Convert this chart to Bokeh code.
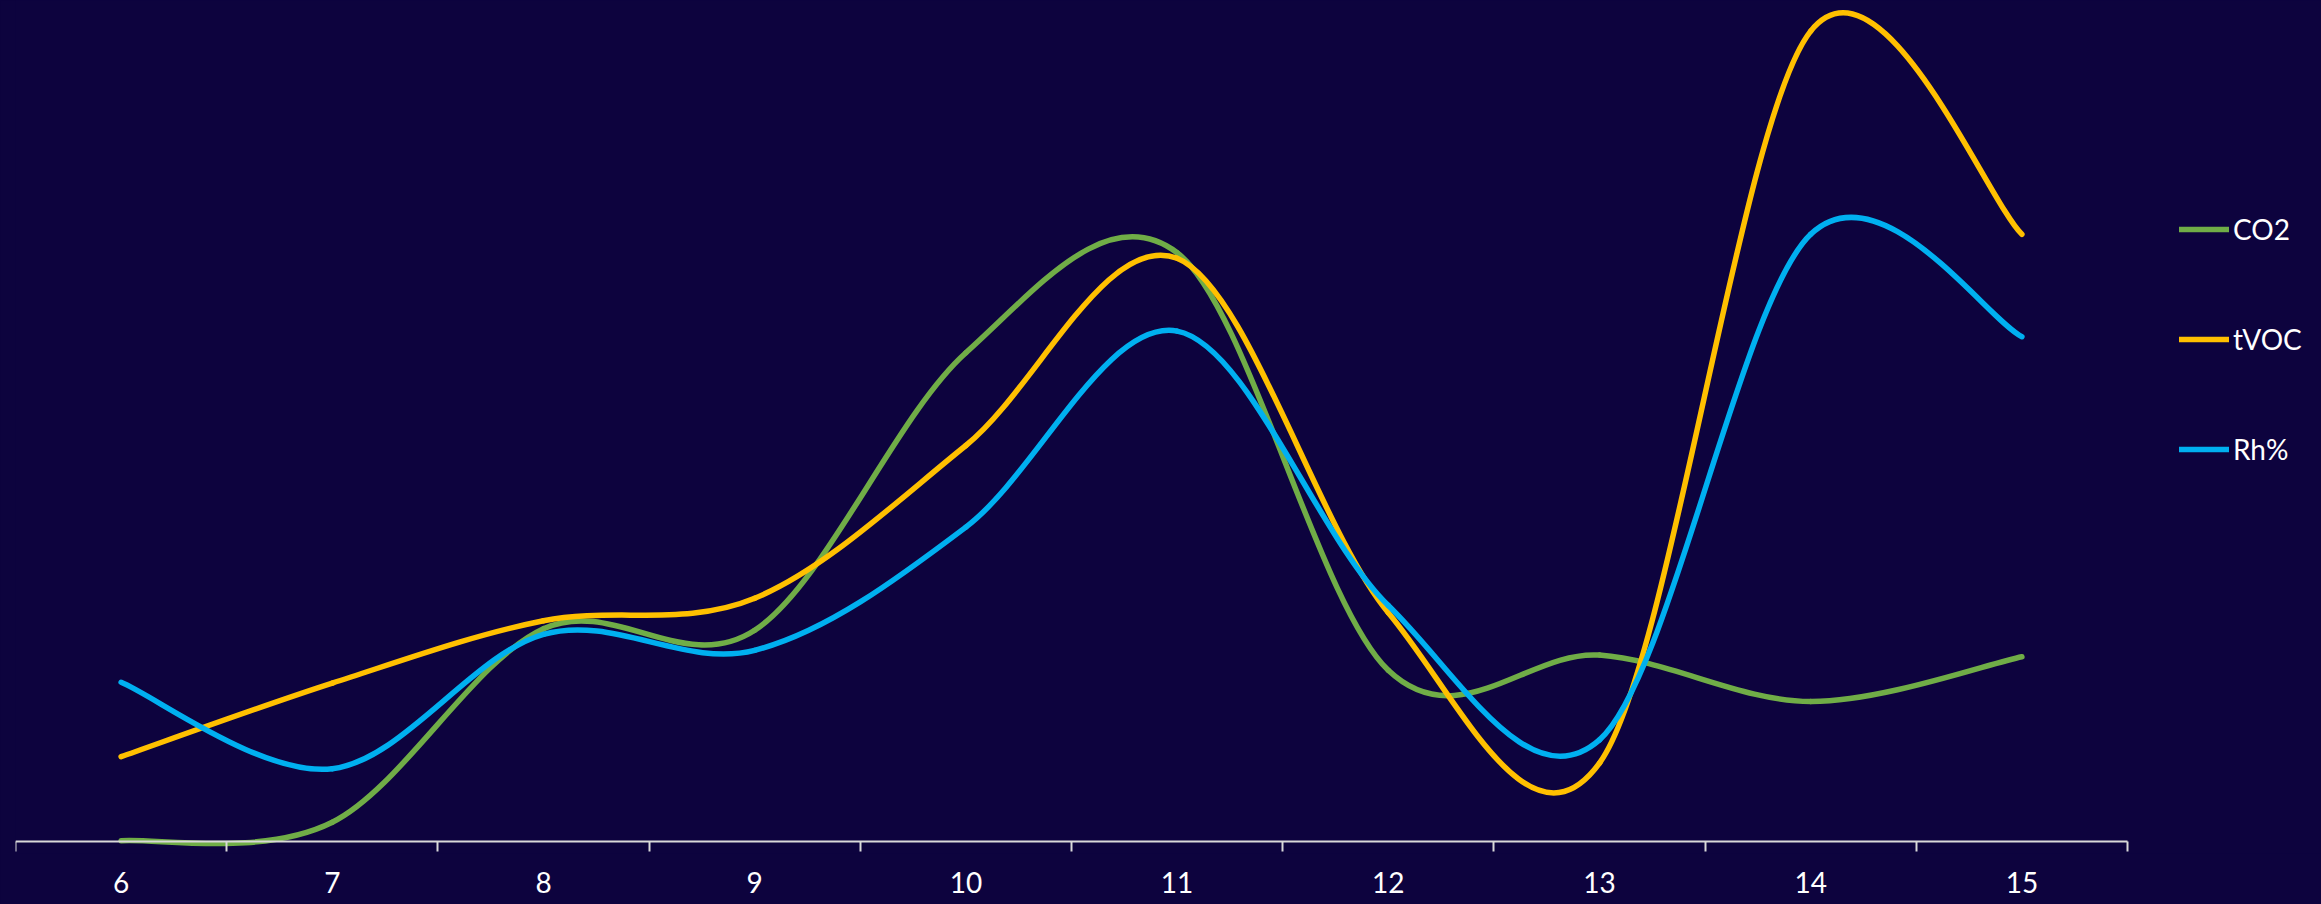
import numpy as np
from bokeh.plotting import figure
from bokeh.models import Range1d, FixedTicker, LinearAxis, Legend, LegendItem
from bokeh.embed import file_html
from bokeh.resources import INLINE

# ---- data ----
hours = [6, 7, 8, 9, 10, 11, 12, 13, 14, 15]
co2 = [0.1, 2.4, 26.6, 26.4, 61.1, 73.6, 21.4, 23.3, 17.5, 23.1]
tvoc = [10.6, 19.8, 27.6, 30.4, 49.5, 72.9, 28.6, 9.8, 101.3, 75.9]
rh = [19.9, 9.1, 25.9, 23.9, 39.3, 63.8, 29.5, 12.7, 75.9, 63.1]
series_names = ["CO2", "tVOC", "Rh%"]
series_colors = ["#70AD47", "#FFC000", "#00B0F0"]

BG = "#0D033E"
AXIS_COLOR = "#D9D9D9"
W, H = 2321, 904
LEFT = 15
BOTTOM = 51
X_PX = 211.2   # px per category
Y_PX = 8.0     # px per value unit

x_start = hours[0] - 0.5
x_end = x_start + (W - LEFT) / X_PX
frame_h = H - BOTTOM
y_start = -12 / Y_PX
y_end = y_start + frame_h / Y_PX

p = figure(width=W, height=H, output_backend="svg", toolbar_location=None,
           x_range=Range1d(x_start, x_end), y_range=Range1d(y_start, y_end),
           x_axis_location=None, y_axis_location=None,
           min_border_left=LEFT, min_border_right=0, min_border_top=0,
           min_border_bottom=BOTTOM)
p.background_fill_color = BG
p.border_fill_color = BG
p.outline_line_color = None
p.xgrid.visible = False
p.ygrid.visible = False


def smooth_segments(xs, ys):
    x = np.asarray(xs, float)
    y = np.asarray(ys, float)
    xp = np.r_[x[0], x, x[-1]]
    yp = np.r_[y[0], y, y[-1]]
    return dict(
        x0=x[:-1], y0=y[:-1], x1=x[1:], y1=y[1:],
        cx0=x[:-1] + (xp[2:-1] - xp[:-3]) / 6.0,
        cy0=y[:-1] + (yp[2:-1] - yp[:-3]) / 6.0,
        cx1=x[1:] - (xp[3:] - xp[1:-2]) / 6.0,
        cy1=y[1:] - (yp[3:] - yp[1:-2]) / 6.0,
    )


items = []
for name, vals, col in zip(series_names, [co2, tvoc, rh], series_colors):
    seg = smooth_segments(hours, vals)
    r = p.bezier(line_color=col, line_width=5.5, line_cap="round", **seg)
    items.append(LegendItem(label=name, renderers=[r]))

boundaries = [h - 0.5 for h in hours] + [hours[-1] + 0.5]

# axis line + category separator ticks, at value 0
ax_line = LinearAxis(ticker=FixedTicker(ticks=hours, minor_ticks=boundaries),
                     fixed_location=0, bounds=(boundaries[0], boundaries[-1]))
ax_line.axis_line_color = AXIS_COLOR
ax_line.axis_line_width = 2
ax_line.major_tick_in = 0
ax_line.major_tick_out = 0
ax_line.minor_tick_in = 0
ax_line.minor_tick_out = 10
ax_line.minor_tick_line_color = AXIS_COLOR
ax_line.minor_tick_line_width = 2
ax_line.major_label_text_alpha = 0
p.add_layout(ax_line, "below")

# category labels
ax_lab = LinearAxis(ticker=FixedTicker(ticks=hours, minor_ticks=[]))
ax_lab.axis_line_color = None
ax_lab.major_tick_line_color = None
ax_lab.minor_tick_line_color = None
ax_lab.major_tick_in = 0
ax_lab.major_tick_out = 0
ax_lab.minor_tick_in = 0
ax_lab.minor_tick_out = 0
ax_lab.major_label_standoff = 18
ax_lab.major_label_text_color = "white"
ax_lab.major_label_text_font = "Lato"
ax_lab.major_label_text_font_size = "28px"
p.add_layout(ax_lab, "below")

legend = Legend(items=items, location=(2164, 387), orientation="vertical",
                background_fill_alpha=0, border_line_alpha=0,
                padding=0, margin=0, spacing=76,
                glyph_width=50, glyph_height=34, label_height=34,
                label_standoff=4, label_text_color="white",
                label_text_font="Lato", label_text_font_size="28px")
p.add_layout(legend)

page_style = ("{% block postamble %}<style>html, body { background: "
              + BG + "; }</style>{% endblock %}")

open("out.html", "w").write(file_html(p, INLINE, template=page_style))
